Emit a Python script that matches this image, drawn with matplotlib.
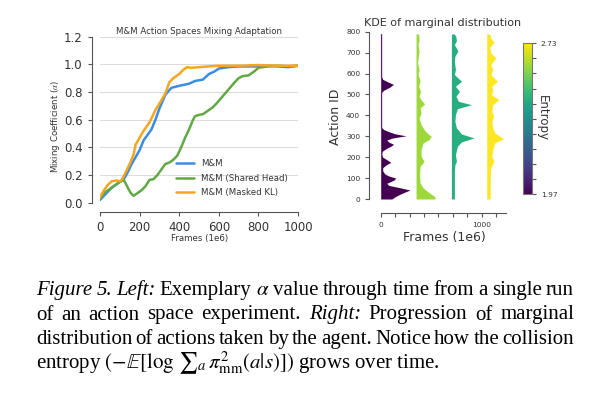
import numpy as np
import matplotlib
matplotlib.use("Agg")
import matplotlib.pyplot as plt
from matplotlib import cm, colors as mcolors

# ---------------- data ----------------
frames_mm = [0, 20, 40, 60, 80, 100, 120, 140, 160, 180, 200, 220, 240, 260, 280, 300,
             330, 360, 400, 450, 480, 520, 550, 580, 600, 650, 700, 750, 800, 850, 900, 950, 1000]
alpha_mm = [0.02, 0.05, 0.08, 0.11, 0.13, 0.15, 0.17, 0.22, 0.28, 0.33, 0.38, 0.45, 0.49, 0.53, 0.6, 0.68,
            0.78, 0.83, 0.845, 0.86, 0.88, 0.89, 0.93, 0.95, 0.97, 0.98, 0.985, 0.985, 0.985, 0.99, 0.985, 0.98, 0.99]

frames_shared = [0, 20, 50, 80, 100, 120, 140, 155, 170, 190, 210, 230, 250, 270, 290, 310, 330, 350,
                 370, 390, 410, 430, 450, 470, 480, 500, 520, 550, 570, 590, 620, 650, 680, 700, 720,
                 750, 780, 800, 820, 850, 900, 950, 1000]
alpha_shared = [0.03, 0.07, 0.1, 0.13, 0.15, 0.165, 0.11, 0.07, 0.05, 0.07, 0.09, 0.12, 0.165, 0.17, 0.2,
                0.24, 0.28, 0.29, 0.31, 0.34, 0.4, 0.47, 0.53, 0.6, 0.625, 0.635, 0.64, 0.67, 0.69, 0.72,
                0.77, 0.82, 0.87, 0.9, 0.915, 0.92, 0.95, 0.975, 0.98, 0.985, 0.99, 0.985, 0.99]

frames_masked = [0, 20, 40, 60, 80, 100, 110, 130, 150, 170, 180, 200, 220, 250, 280, 310, 330, 350,
                 370, 400, 420, 440, 460, 500, 550, 600, 700, 800, 900, 1000]
alpha_masked = [0.04, 0.09, 0.13, 0.155, 0.16, 0.155, 0.165, 0.22, 0.28, 0.35, 0.42, 0.47, 0.52, 0.58,
                0.67, 0.74, 0.79, 0.87, 0.9, 0.93, 0.96, 0.98, 0.975, 0.98, 0.985, 0.99, 0.99, 0.995, 0.99, 0.99]

series_labels = ["M&M", "M&M (Shared Head)", "M&M (Masked KL)"]
series_colors = ["#3a8ee0", "#62a844", "#f4a623"]

# KDE profiles (action ID, half-width in frame units)
kde_positions = [0, 350, 700, 1050]
kde_entropy = [1.97, 2.62, 2.45, 2.73]
kde1_ids = [0, 10, 25, 43, 55, 65, 75, 90, 100, 110, 120, 135, 150, 165, 175, 185, 200, 215, 228, 240,
            255, 262, 272, 282, 292, 302, 312, 322, 332, 342, 510, 520, 535, 548, 560, 572, 585, 790]
kde1_w = [110, 140, 200, 290, 180, 80, 60, 130, 150, 80, 40, 20, 20, 60, 100, 70, 20, 10, 15, 50,
          110, 126, 80, 60, 120, 250, 140, 80, 30, 9, 9, 30, 90, 126, 70, 20, 9, 9]
kde2_ids = [0, 5, 13, 34, 53, 77, 117, 156, 180, 204, 236, 268, 284, 300, 311, 332, 356, 387, 411, 435,
            454, 475, 491, 515, 539, 566, 595, 619, 650, 674, 708, 738, 760, 789]
kde2_w = [190, 190, 180, 120, 70, 40, 35, 40, 80, 50, 50, 70, 130, 150, 120, 80, 50, 30, 50, 40,
          85, 50, 30, 45, 25, 40, 20, 30, 15, 20, 30, 20, 30, 25]
kde3_ids = [0, 133, 164, 180, 212, 252, 273, 292, 311, 340, 371, 403, 432, 451, 467, 491, 515, 539,
            563, 595, 619, 659, 683, 708, 738, 757, 775, 789]
kde3_w = [30, 30, 35, 50, 40, 60, 100, 225, 100, 50, 35, 40, 60, 200, 70, 45, 80, 40, 100, 30, 40, 30,
          35, 65, 30, 50, 45, 30]
kde4_ids = [0, 101, 148, 180, 204, 236, 268, 288, 316, 340, 371, 395, 419, 451, 475, 499, 515, 539,
            563, 595, 619, 643, 674, 700, 725, 749, 770, 789]
kde4_w = [35, 35, 40, 72, 50, 60, 80, 165, 80, 60, 50, 70, 50, 60, 120, 45, 60, 50, 106, 40, 60, 40,
          90, 40, 30, 72, 40, 30]

caption_lines = [
    [("Figure", "italic"), ("5.", "italic"), ("Left:", "italic"), ("Exemplary", "normal"),
     (r"$\alpha$", "normal"), ("value", "normal"), ("through", "normal"), ("time", "normal"),
     ("from", "normal"), ("a", "normal"), ("single", "normal"), ("run", "normal")],
    [("of", "normal"), ("an", "normal"), ("action", "normal"), ("space", "normal"),
     ("experiment.", "normal"), ("Right:", "italic"), ("Progression", "normal"), ("of", "normal"),
     ("marginal", "normal")],
    [("distribution", "normal"), ("of", "normal"), ("actions", "normal"), ("taken", "normal"),
     ("by", "normal"), ("the", "normal"), ("agent.", "normal"), ("Notice", "normal"), ("how", "normal"),
     ("the", "normal"), ("collision", "normal")],
]
caption_last = r"entropy $(-\mathbb{E}[\log\, {\sum}_{a}\, \pi^2_{\rm mm}(a|s)])$ grows over time."

# ---------------- figure ----------------
plt.rcParams["mathtext.fontset"] = "stix"
plt.rcParams["font.family"] = "DejaVu Sans"
W, H = 601, 395
fig = plt.figure(figsize=(W / 100, H / 100), dpi=100)


def box(l, r, top, bot):
    return [l / W, 1 - bot / H, (r - l) / W, (bot - top) / H]


TXT = "#333333"
SP = "#555555"

# ---- left panel ----
ax = fig.add_axes(box(100, 298, 36.7, 202.7))
for f, a, lab, c in zip([frames_mm, frames_shared, frames_masked],
                        [alpha_mm, alpha_shared, alpha_masked], series_labels, series_colors):
    ax.plot(f, a, color=c, lw=1.8, label=lab, solid_capstyle="round")
ax.set_xlim(0, 1000)
ax.set_ylim(0, 1.2)
ax.set_yticks(np.arange(0, 1.21, 0.2))
ax.set_xticks(np.arange(0, 1001, 200))
ax.yaxis.grid(True, color="#dcdcdc", lw=0.8)
ax.set_axisbelow(True)
for s in ["top", "right"]:
    ax.spines[s].set_visible(False)
ax.spines["left"].set_position(("outward", 6))
ax.spines["bottom"].set_position(("outward", 6.5))
ax.spines["left"].set_bounds(0, 1.2)
ax.spines["bottom"].set_bounds(0, 1000)
for s in ["left", "bottom"]:
    ax.spines[s].set_color(SP)
    ax.spines[s].set_linewidth(0.8)
ax.tick_params(labelsize=8.5, colors=TXT, length=3, width=0.8, color=SP)
ax.set_yticklabels(["0.0", "0.2", "0.4", "0.6", "0.8", "1.0", "1.2"])
fig.text(199.5 / W, 1 - 32 / H, "M&M Action Spaces Mixing Adaptation", ha="center", va="center",
         fontsize=6.2, color=TXT)
fig.text(55 / W, 1 - 126.7 / H, r"Mixing Coefficient ($\alpha$)", ha="center", va="center",
         rotation=90, fontsize=6.2, color=TXT)
fig.text(199.7 / W, 1 - 238 / H, "Frames (1e6)", ha="center", va="center", fontsize=6.2, color=TXT)
leg = ax.legend(loc="upper left", bbox_to_anchor=(176 / W, 1 - 159.5 / H), bbox_transform=fig.transFigure,
                frameon=False, fontsize=6.2, handlelength=2.1, handletextpad=0.8, labelspacing=0.6,
                borderpad=0, borderaxespad=0)
for t in leg.get_texts():
    t.set_color(TXT)

# ---- right panel ----
ax2 = fig.add_axes(box(369.3, 505.9, 31.7, 199))
ax2.set_xlim(-113, 1240)
ax2.set_ylim(0, 800)
norm = mcolors.Normalize(vmin=1.97, vmax=2.73)
cmap = matplotlib.colormaps["viridis"]
for pos, ent, ids, w in zip(kde_positions, kde_entropy,
                            [kde1_ids, kde2_ids, kde3_ids, kde4_ids],
                            [kde1_w, kde2_w, kde3_w, kde4_w]):
    ids = np.array(ids, float)
    w = np.array(w, float)
    ax2.fill_betweenx(ids, pos, pos + w, color=cmap(norm(ent)), lw=0)
ax2.plot([0, 0], [585, 790], color=cmap(0.0), alpha=0.35, lw=1.0)
ax2.plot([0, 0], [342, 510], color=cmap(0.0), alpha=0.35, lw=1.0)
for s in ["top", "right"]:
    ax2.spines[s].set_visible(False)
ax2.spines["bottom"].set_position(("outward", 9.9))
ax2.spines["bottom"].set_bounds(0, 1240)
ax2.spines["left"].set_bounds(0, 800)
for s in ["left", "bottom"]:
    ax2.spines[s].set_color(SP)
    ax2.spines[s].set_linewidth(0.8)
ax2.set_yticks(np.arange(0, 801, 100))
ax2.set_xticks([0, 1000])
ax2.set_xticks(np.arange(0, 1200, 1000 / 7), minor=True)
ax2.tick_params(labelsize=5.3, colors=TXT, length=3, width=0.8, color=SP)
ax2.tick_params(which="minor", length=3, width=0.8, color=SP)
fig.text(443 / W, 1 - 23 / H, "KDE of marginal distribution", ha="center", va="center",
         fontsize=8, color=TXT)
fig.text(336 / W, 1 - 117 / H, "Action ID", ha="center", va="center", rotation=90, fontsize=9, color=TXT)
fig.text(444 / W, 1 - 237.7 / H, "Frames (1e6)", ha="center", va="center", fontsize=9, color=TXT)

# colorbar
cax = fig.add_axes(box(522.7, 531.7, 43.3, 194.3))
sm = cm.ScalarMappable(norm=norm, cmap=cmap)
cb = fig.colorbar(sm, cax=cax)
cb.set_ticks([1.97, 2.73])
cb.set_ticklabels(["1.97", "2.73"])
cb.ax.set_yticks(np.linspace(1.97, 2.73, 11), minor=True)
cb.ax.tick_params(labelsize=5.3, colors=TXT, length=3, width=0.8, color=SP)
cb.ax.tick_params(which="minor", length=3, width=0.8, color=SP)
cb.outline.set_edgecolor("#777777")
cb.outline.set_linewidth(0.8)
fig.text(542 / W, 1 - 118 / H, "Entropy", ha="center", va="center", rotation=270, fontsize=8.5, color=TXT)

# ---- caption ----
fig.canvas.draw()
renderer = fig.canvas.get_renderer()
CAP_FS = 15.0
x0, x1 = 36, 574
baselines = [295, 319.5, 344, 368.5]
for line, yb in zip(caption_lines, baselines[:3]):
    texts = []
    widths = []
    for s, st in line:
        t = fig.text(0, 1 - yb / H, s, fontsize=CAP_FS, family="Liberation Serif", style=st,
                     va="baseline", ha="left", color="black")
        bb = t.get_window_extent(renderer)
        texts.append(t)
        widths.append(bb.width)
    gap = (x1 - x0 - sum(widths)) / (len(widths) - 1)
    x = x0
    for t, wd in zip(texts, widths):
        t.set_x(x / W)
        x += wd + gap
fig.text(x0 / W, 1 - baselines[3] / H, caption_last, fontsize=CAP_FS, family="Liberation Serif",
         va="baseline", ha="left", color="black")

fig.savefig("out.png", dpi=100)
